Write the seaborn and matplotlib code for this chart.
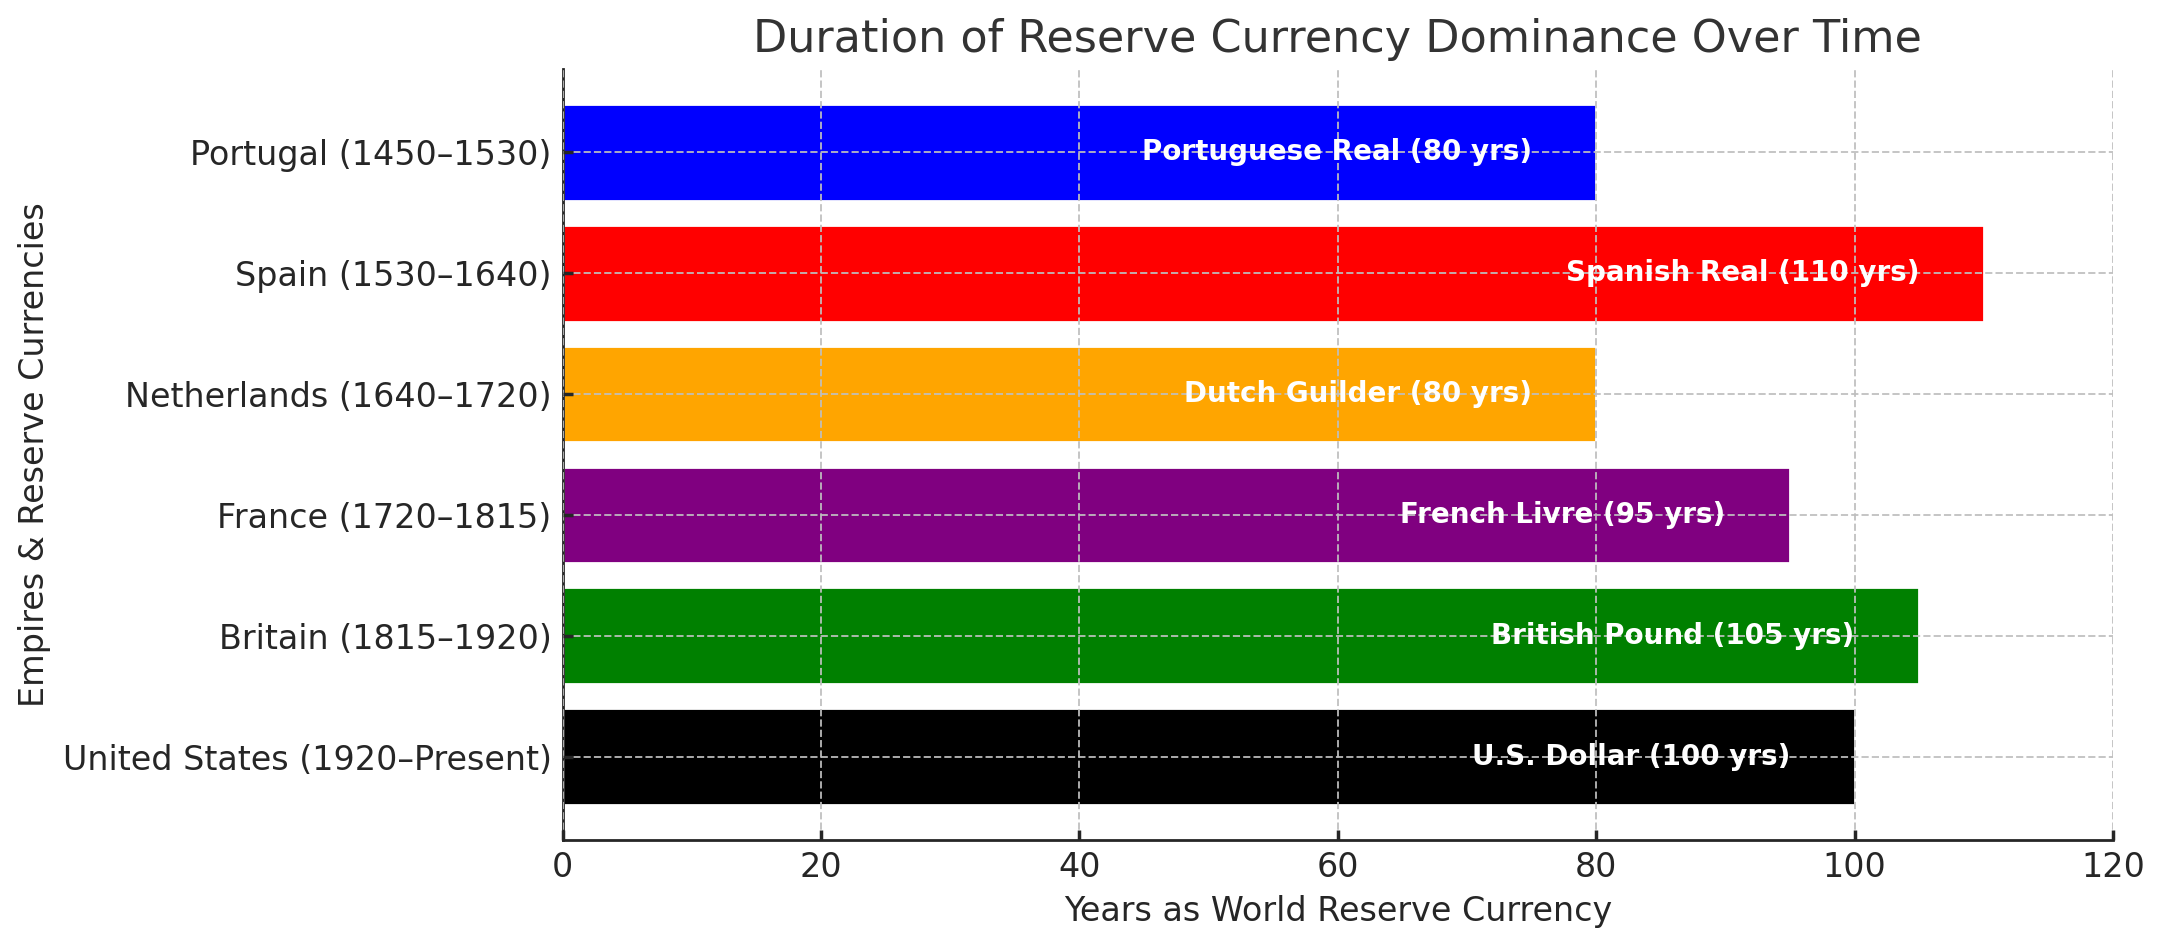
import matplotlib
matplotlib.use("Agg")
import matplotlib.pyplot as plt
import seaborn as sns
import pandas as pd

empires = ["Portugal (1450–1530)", "Spain (1530–1640)", "Netherlands (1640–1720)",
           "France (1720–1815)", "Britain (1815–1920)", "United States (1920–Present)"]
currencies = ["Portuguese Real", "Spanish Real", "Dutch Guilder",
              "French Livre", "British Pound", "U.S. Dollar"]
years = [80, 110, 80, 95, 105, 100]
colors = ["blue", "red", "orange", "purple", "green", "black"]

sns.set_theme(style="ticks")
plt.rcParams['font.family'] = ['DejaVu Sans']

df = pd.DataFrame({"empire": empires, "years": years})

fig, ax = plt.subplots(figsize=(10.82, 4.735), dpi=200)
fig.subplots_adjust(left=0.26, right=0.9765, top=0.927, bottom=0.113)

sns.barplot(data=df, y="empire", x="years", hue="empire", palette=colors,
            orient="h", legend=False, width=0.8, saturation=1, ax=ax)

for i, (cur, v) in enumerate(zip(currencies, years)):
    ax.text(v - 5, i, f"{cur} ({v} yrs)", ha="right", va="center",
            color="white", fontsize=10, fontweight="bold", zorder=4)

ax.set_xlim(0, 120)
ax.set_ylim(5.69, -0.69)
ax.grid(True, linestyle="--", color="#bfbfbf", linewidth=0.7, alpha=0.9)
ax.set_axisbelow(False)
for s in ["top", "right"]:
    ax.spines[s].set_visible(False)
for s in ["left", "bottom"]:
    ax.spines[s].set_color("#262626")
    ax.spines[s].set_linewidth(1.0)

ax.set_title("Duration of Reserve Currency Dominance Over Time", fontsize=16, color="#333333")
ax.set_xlabel("Years as World Reserve Currency", fontsize=12, color="#262626")
ax.set_ylabel("Empires & Reserve Currencies", fontsize=12, color="#262626")
ax.tick_params(axis="both", labelsize=12, colors="#262626", direction="in", length=3.5, pad=4)

fig.savefig("out.png", dpi=200)
